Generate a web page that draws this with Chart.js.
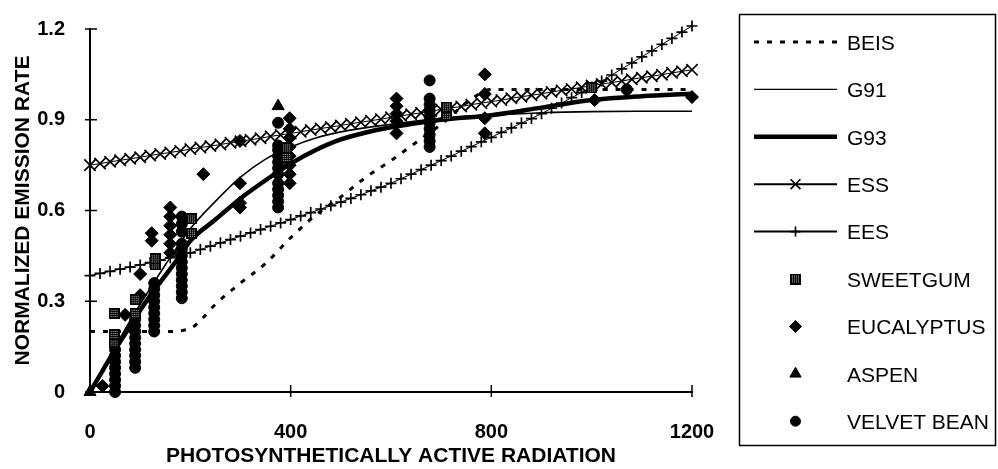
<!DOCTYPE html>
<html>
<head>
<meta charset="utf-8">
<script src="https://cdn.jsdelivr.net/npm/chart.js@4.4.1/dist/chart.umd.min.js"></script>
<style>
  html, body { margin: 0; padding: 0; background: #fff; }
  #chart01 { display: block; }
</style>
</head>
<body>
<canvas id="chart01" width="998" height="469"></canvas>
<script>
// axis ticks
const xTicks = [0, 400, 800, 1200];
const xTickLabels = ["0", "400", "800", "1200"];
const yTicks = [0, 0.3, 0.6, 0.9, 1.2];
const yTickLabels = ["0", "0.3", "0.6", "0.9", "1.2"];

// model curves
const beisX = [0, 50, 100, 150, 200, 225, 250, 300, 350, 400, 450, 500, 550, 600, 650, 700, 750, 800, 900, 1000, 1100, 1200];
const beisY = [0.2, 0.2, 0.2, 0.2, 0.21, 0.245, 0.29, 0.36, 0.425, 0.51, 0.585, 0.645, 0.71, 0.765, 0.825, 0.885, 0.955, 1.0, 1.0, 1.0, 1.0, 1.0];

const g91X = [0, 50, 100, 150, 200, 250, 300, 350, 400, 450, 500, 600, 700, 800, 900, 1000, 1100, 1200];
const g91Y = [0, 0.15, 0.29, 0.42, 0.54, 0.63, 0.71, 0.77, 0.81, 0.84, 0.86, 0.885, 0.905, 0.915, 0.923, 0.927, 0.928, 0.928];

const g93X = [0, 25, 50, 75, 100, 125, 150, 175, 200, 250, 300, 350, 400, 450, 500, 550, 600, 700, 800, 900, 1000, 1100, 1200];
const g93Y = [0, 0.07, 0.14, 0.205, 0.27, 0.33, 0.385, 0.44, 0.5, 0.57, 0.64, 0.70, 0.755, 0.80, 0.835, 0.858, 0.875, 0.9, 0.915, 0.94, 0.965, 0.978, 0.986];

// ESS / EES are drawn with a marker every 20 units
const markerX = [0, 20, 40, 60, 80, 100, 120, 140, 160, 180, 200, 220, 240, 260, 280, 300, 320, 340, 360, 380,
  400, 420, 440, 460, 480, 500, 520, 540, 560, 580, 600, 620, 640, 660, 680, 700, 720, 740, 760, 780,
  800, 820, 840, 860, 880, 900, 920, 940, 960, 980, 1000, 1020, 1040, 1060, 1080, 1100, 1120, 1140, 1160, 1180, 1200];
const essY = [0.750, 0.755, 0.761, 0.766, 0.771, 0.776, 0.782, 0.787, 0.792, 0.797,
  0.803, 0.808, 0.813, 0.818, 0.824, 0.829, 0.834, 0.839, 0.845, 0.850,
  0.855, 0.860, 0.866, 0.871, 0.876, 0.881, 0.887, 0.892, 0.897, 0.902,
  0.908, 0.913, 0.918, 0.923, 0.929, 0.934, 0.939, 0.944, 0.950, 0.955,
  0.960, 0.965, 0.971, 0.976, 0.981, 0.986, 0.992, 0.997, 1.002, 1.007,
  1.013, 1.018, 1.023, 1.028, 1.034, 1.039, 1.044, 1.049, 1.055, 1.060, 1.065];
const eesY = [0.385, 0.392, 0.399, 0.406, 0.413, 0.420, 0.428, 0.436, 0.444, 0.452,
  0.460, 0.471, 0.482, 0.493, 0.504, 0.515, 0.526, 0.537, 0.548, 0.559,
  0.570, 0.582, 0.593, 0.605, 0.616, 0.628, 0.640, 0.652, 0.665, 0.677,
  0.690, 0.705, 0.720, 0.735, 0.750, 0.765, 0.780, 0.796, 0.811, 0.827,
  0.842, 0.858, 0.873, 0.889, 0.904, 0.920, 0.938, 0.955, 0.973, 0.990,
  1.008, 1.028, 1.048, 1.068, 1.088, 1.108, 1.128, 1.149, 1.169, 1.190, 1.210];

// measurements
const sweetgumX = [48, 48, 48, 90, 90, 130, 130, 202, 202, 392, 392, 711, 711, 1000];
const sweetgumY = [0.165, 0.19, 0.26, 0.26, 0.305, 0.42, 0.44, 0.525, 0.572, 0.775, 0.807, 0.915, 0.942, 1.005];

const eucalyptusX = [25, 70, 100, 100, 123, 123, 160, 160, 160, 160, 160, 160, 226, 299, 299, 299, 299,
  398, 398, 398, 398, 398, 398, 398, 398, 611, 611, 611, 611, 611, 787, 787, 787, 787, 1006, 1200];
const eucalyptusY = [0.02, 0.255, 0.32, 0.39, 0.5, 0.525, 0.46, 0.49, 0.52, 0.55, 0.58, 0.61, 0.72, 0.61, 0.625, 0.69, 0.83,
  0.69, 0.72, 0.75, 0.78, 0.81, 0.84, 0.87, 0.905, 0.855, 0.895, 0.92, 0.945, 0.97, 0.855, 0.905, 0.985, 1.05, 0.965, 0.975];

const aspenX = [0, 375];
const aspenY = [0, 0.945];

const velvetX = [50, 50, 50, 50, 50, 50, 50, 50,
  90, 90, 90, 90, 90, 90, 90, 90, 90,
  128, 128, 128, 128, 128, 128, 128, 128, 128,
  183, 183, 183, 183, 183, 183, 183, 183, 183, 183, 183, 183, 183,
  375, 375, 375, 375, 375, 375, 375, 375, 375, 375, 375, 375,
  677, 677, 677, 677, 677, 677, 677, 677, 677, 677,
  1070];
const velvetY = [0, 0.02, 0.04, 0.06, 0.08, 0.10, 0.12, 0.14,
  0.08, 0.10, 0.12, 0.14, 0.16, 0.18, 0.20, 0.22, 0.24,
  0.20, 0.22, 0.24, 0.26, 0.28, 0.30, 0.32, 0.34, 0.36,
  0.31, 0.33, 0.35, 0.37, 0.39, 0.41, 0.43, 0.45, 0.47, 0.49, 0.53, 0.555, 0.58,
  0.61, 0.63, 0.65, 0.67, 0.69, 0.72, 0.74, 0.76, 0.78, 0.80, 0.815, 0.89,
  0.81, 0.83, 0.85, 0.87, 0.89, 0.91, 0.93, 0.95, 0.97, 1.03,
  1.0];

const pts = (xs, ys) => xs.map((x, i) => ({ x: x, y: ys[i] }));

// dark square with light dots, used for sweetgum
function makeSweetgumIcon(size) {
  const c = document.createElement("canvas");
  c.width = size;
  c.height = size;
  const g = c.getContext("2d");
  g.fillStyle = "#000";
  g.fillRect(0, 0, size, size);
  g.fillStyle = "#bbb";
  for (let i = 2; i < size - 2; i += 2) {
    for (let j = 2; j < size - 2; j += 2) {
      g.fillRect(i, j, 1, 1);
    }
  }
  return c;
}
const sweetgumIcon = makeSweetgumIcon(11);

const LEG = { left: 739.5, top: 14.5, right: 995.5, bottom: 445.5, y0: 44, dy: 47.4, x1: 754, x2: 837, text: 847 };

const boxLegend = {
  id: "boxLegend",
  afterDraw(chart) {
    const ctx = chart.ctx;
    ctx.save();
    ctx.strokeStyle = "#000";
    ctx.lineWidth = 1.5;
    ctx.strokeRect(LEG.left, LEG.top, LEG.right - LEG.left, LEG.bottom - LEG.top);

    chart.data.datasets.forEach((ds, i) => {
      const y = LEG.y0 + i * LEG.dy;
      const cx = (LEG.x1 + LEG.x2) / 2;
      ctx.strokeStyle = "#000";
      ctx.fillStyle = "#000";
      if (ds.showLine) {
        ctx.save();
        ctx.lineWidth = ds.legendWidth || ds.borderWidth;
        ctx.setLineDash(ds.borderDash || []);
        ctx.beginPath();
        ctx.moveTo(LEG.x1, y - 2);
        ctx.lineTo(LEG.x2, y - 2);
        ctx.stroke();
        ctx.restore();
      }
      if (ds.legendMarker) {
        ctx.lineWidth = ds.pointBorderWidth || 1;
        Chart.helpers.drawPoint(ctx, {
          pointStyle: ds.pointStyle,
          radius: ds.legendRadius || ds.pointRadius,
          rotation: 0,
          borderWidth: ds.pointBorderWidth || 1
        }, cx, y - 2);
      }
      ctx.fillStyle = "#000";
      ctx.font = "21px 'Liberation Sans', Arial, sans-serif";
      ctx.textAlign = "left";
      ctx.textBaseline = "middle";
      ctx.fillText(ds.label, LEG.text, y);
    });
    ctx.restore();
  }
};

// ticks crossing the axes
const crossTicks = {
  id: "crossTicks",
  beforeDatasetsDraw(chart) {
    const { ctx, scales } = chart;
    const xs = scales.x, ys = scales.y;
    ctx.save();
    ctx.strokeStyle = "#000";
    ctx.lineWidth = 1.5;
    yTicks.forEach(v => {
      const py = ys.getPixelForValue(v);
      ctx.beginPath();
      ctx.moveTo(xs.left - 5, py);
      ctx.lineTo(xs.left + 7, py);
      ctx.stroke();
    });
    xTicks.slice(1).forEach(v => {
      const px = xs.getPixelForValue(v);
      ctx.beginPath();
      ctx.moveTo(px, ys.bottom - 7);
      ctx.lineTo(px, ys.bottom + 5);
      ctx.stroke();
    });
    ctx.restore();
  }
};

Chart.defaults.font.family = "'Liberation Sans', Arial, sans-serif";
Chart.defaults.color = "#000";

const lineBase = { showLine: true, borderColor: "#000", backgroundColor: "#000", clip: false, order: 2 };
const markBase = { showLine: false, borderColor: "#000", backgroundColor: "#000", clip: false, order: 1, legendMarker: true };

const data = {
  datasets: [
    Object.assign({}, lineBase, {
      label: "BEIS", data: pts(beisX, beisY), borderWidth: 3, borderDash: [5, 8],
      pointRadius: 0, cubicInterpolationMode: "monotone"
    }),
    Object.assign({}, lineBase, {
      label: "G91", data: pts(g91X, g91Y), borderWidth: 1.6, legendWidth: 1.4,
      pointRadius: 0, cubicInterpolationMode: "monotone"
    }),
    Object.assign({}, lineBase, {
      label: "G93", data: pts(g93X, g93Y), borderWidth: 4.5,
      pointRadius: 0, cubicInterpolationMode: "monotone"
    }),
    Object.assign({}, lineBase, {
      label: "ESS", data: pts(markerX, essY), borderWidth: 1, legendWidth: 2,
      pointStyle: "crossRot", pointRadius: 8, legendRadius: 7, pointBorderWidth: 1.7,
      pointBorderColor: "#000", legendMarker: true
    }),
    Object.assign({}, lineBase, {
      label: "EES", data: pts(markerX, eesY), borderWidth: 1, legendWidth: 2,
      pointStyle: "cross", pointRadius: 5.5, legendRadius: 5, pointBorderWidth: 1.7,
      pointBorderColor: "#000", legendMarker: true
    }),
    Object.assign({}, markBase, {
      label: "SWEETGUM", data: pts(sweetgumX, sweetgumY),
      pointStyle: sweetgumIcon, pointRadius: 5.5, pointBorderWidth: 0
    }),
    Object.assign({}, markBase, {
      label: "EUCALYPTUS", data: pts(eucalyptusX, eucalyptusY),
      pointStyle: "rectRot", pointRadius: 6.5, legendRadius: 6, pointBorderWidth: 1
    }),
    Object.assign({}, markBase, {
      label: "ASPEN", data: pts(aspenX, aspenY),
      pointStyle: "triangle", pointRadius: 7, legendRadius: 6.5, pointBorderWidth: 1
    }),
    Object.assign({}, markBase, {
      label: "VELVET BEAN", data: pts(velvetX, velvetY),
      pointStyle: "circle", pointRadius: 5.5, legendRadius: 5, pointBorderWidth: 1
    })
  ]
};

const options = {
  responsive: false,
  animation: false,
  devicePixelRatio: 1,
  events: [],
  layout: { padding: { top: 22, right: 306, bottom: 0, left: 0 } },
  plugins: {
    legend: { display: false },
    tooltip: { enabled: false }
  },
  scales: {
    x: {
      type: "linear",
      min: 0,
      max: 1200,
      afterFit: s => { s.height = 77; },
      afterBuildTicks: s => { s.ticks = xTicks.map(v => ({ value: v })); },
      grid: { display: false },
      border: { display: true, color: "#000", width: 2 },
      ticks: {
        padding: 20,
        maxRotation: 0,
        font: { size: 20, weight: "bold" },
        callback: v => xTickLabels[xTicks.indexOf(v)]
      },
      title: {
        display: true,
        text: "PHOTOSYNTHETICALLY ACTIVE RADIATION",
        font: { size: 21, weight: "bold" },
        padding: { top: 0, bottom: 0 }
      }
    },
    y: {
      type: "linear",
      min: 0,
      max: 1.2,
      afterFit: s => { s.width = 90; },
      afterBuildTicks: s => { s.ticks = yTicks.map(v => ({ value: v })); },
      grid: { display: false },
      border: { display: true, color: "#000", width: 2 },
      ticks: {
        padding: 17,
        font: { size: 20, weight: "bold" },
        callback: v => yTickLabels[yTicks.indexOf(v)]
      },
      title: {
        display: true,
        text: "NORMALIZED EMISSION RATE",
        font: { size: 21, weight: "bold" },
        padding: { top: 11, bottom: 0 }
      }
    }
  }
};

new Chart(document.getElementById("chart01"), {
  type: "scatter",
  data: data,
  options: options,
  plugins: [crossTicks, boxLegend]
});
</script>
</body>
</html>
